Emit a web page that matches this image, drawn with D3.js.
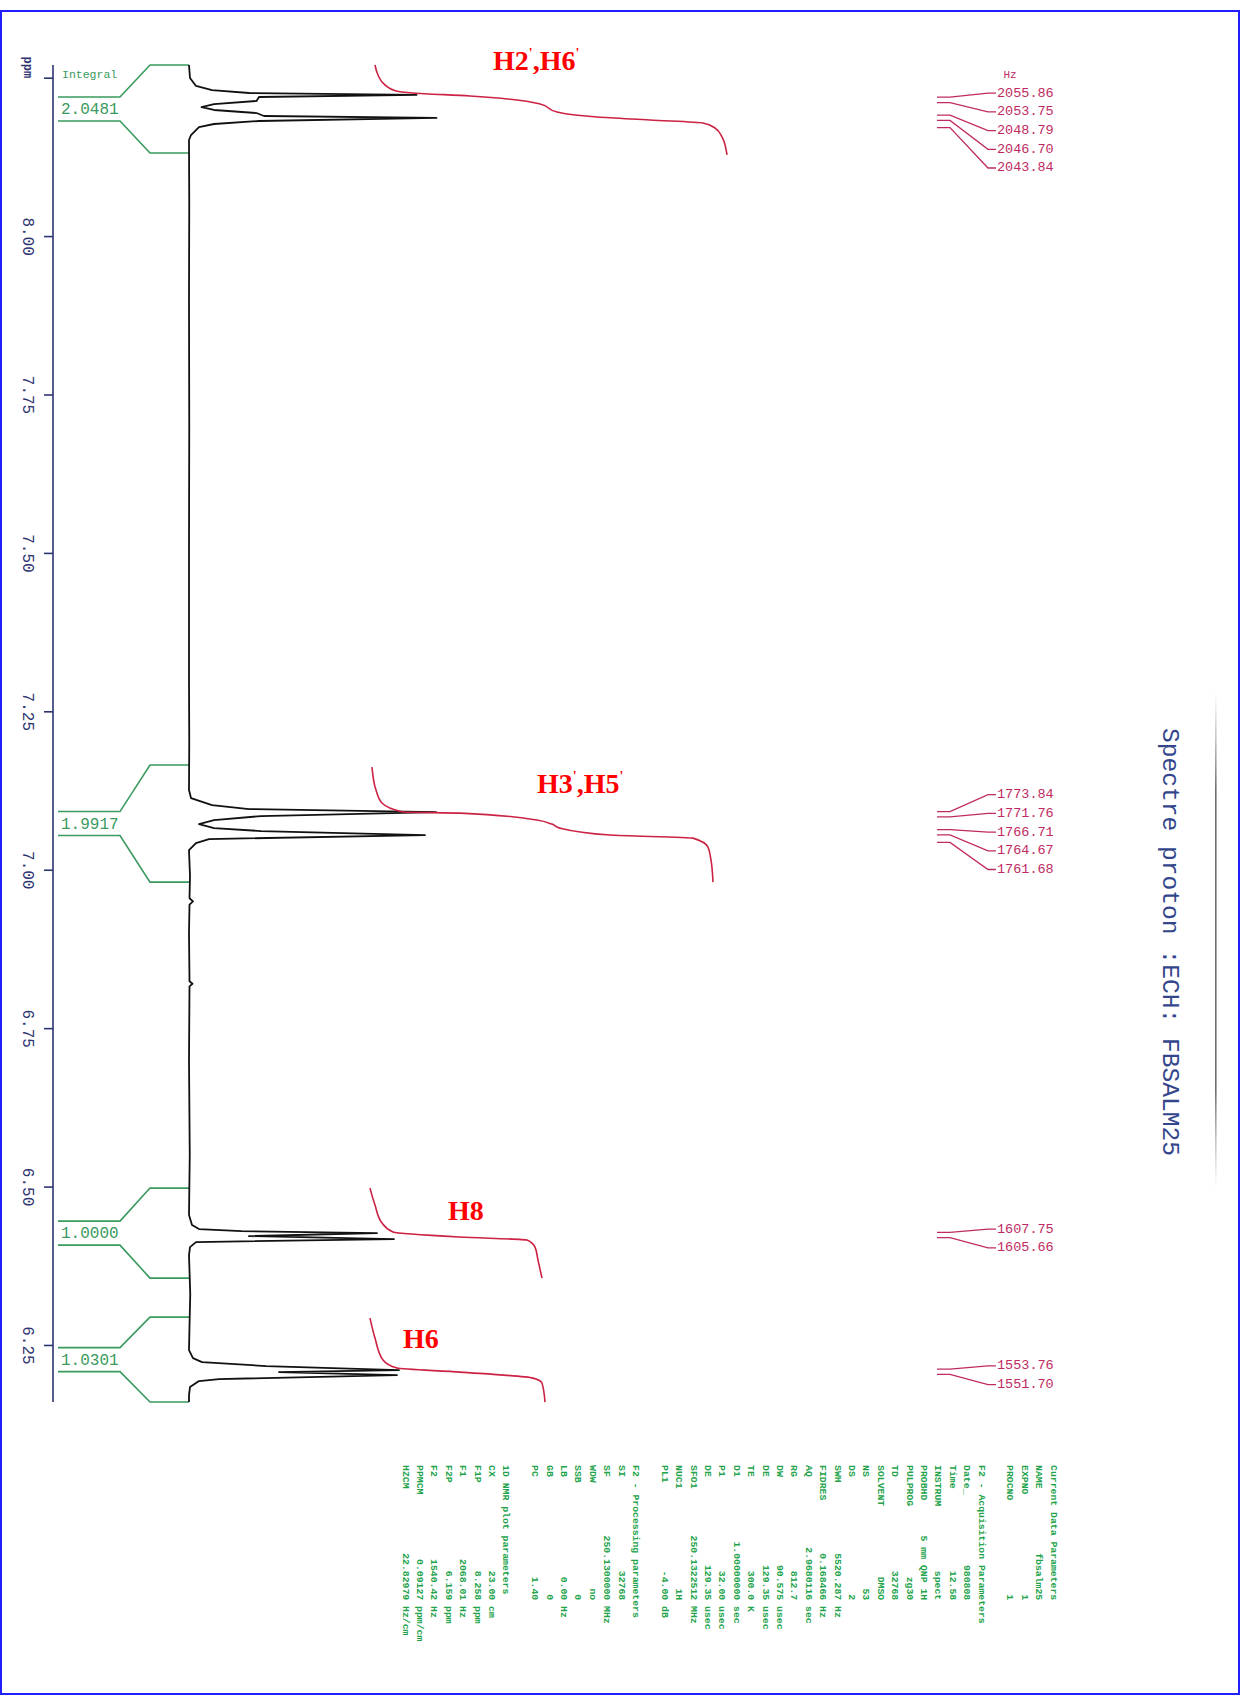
<!DOCTYPE html>
<html>
<head>
<meta charset="utf-8">
<script src="https://cdn.jsdelivr.net/npm/d3@7"></script>
<style>
body { margin: 0; background: #fff; }
svg { display: block; }
.mono { font-family: "Liberation Mono", "DejaVu Sans Mono", monospace; }
.tag { font-family: "Liberation Serif", "Times New Roman", serif; font-weight: bold; fill: #ff0000; }
</style>
</head>
<body>
<svg id="chart" width="1241" height="1702"></svg>
<script>
// 1H spectrum trace: [ppm, intensity]
const spectrum = [
  [8.270, 0], [8.2495, 0.4], [8.2369, 2.8], [8.2305, 9.2], [8.2258, 24], [8.2227, 91],
  [8.2195, 28], [8.2132, 27], [8.2084, 10], [8.2037, 5], [8.1990, 10], [8.1942, 27],
  [8.1895, 30], [8.1864, 99], [8.1816, 28], [8.1769, 10], [8.1721, 4], [8.1595, 0.8],
  [8.1516, 0], [8.05, 0.1], [7.90, 0], [7.70, 0.1], [7.50, 0], [7.30, 0], [7.20, 0.1],
  [7.1257, 0], [7.1131, 0.8], [7.1020, 9.2], [7.0957, 24], [7.0910, 98.8], [7.0847, 28.8],
  [7.0783, 10], [7.0720, 4], [7.0657, 10], [7.0610, 28.8], [7.0547, 94.4], [7.0484, 8],
  [7.0421, 2.8], [7.0310, 0], [6.99, 0.4], [6.955, 0.2], [6.950, 1.6], [6.945, 0.2],
  [6.90, 0], [6.824, 0.2], [6.820, 1.4], [6.816, 0.2], [6.70, 0], [6.55, 0.3], [6.4550, 0],
  [6.4392, 1.2], [6.4329, 4], [6.4297, 21], [6.4266, 75.2], [6.4218, 24], [6.4171, 82],
  [6.4124, 2.8], [6.4045, 0.4], [6.3919, 0], [6.33, 0.5], [6.28, 0.2], [6.2419, 0],
  [6.2293, 1.6], [6.2230, 5.2], [6.2167, 30.8], [6.2104, 84], [6.2072, 36], [6.2025, 83.2],
  [6.1962, 12], [6.1930, 4], [6.1835, 0.4], [6.1709, 0], [6.1599, 0]
];

// integral curves (red): [ppm, integral]
const integralCurves = [
  [[8.2700, 8.75], [8.2542, 9.5], [8.2384, 11.25], [8.2290, 14], [8.2258, 18.25], [8.2211, 32.5],
   [8.2148, 44.25], [8.2084, 50], [8.1958, 54.25], [8.1911, 58.75], [8.1879, 64.25],
   [8.1832, 77.5], [8.1785, 90.75], [8.1706, 93.75], [8.1564, 95.5], [8.1280, 96.75]],
  [[7.1620, 8], [7.1257, 9], [7.1052, 10.5], [7.0910, 15.75], [7.0894, 30], [7.0784, 49.25],
   [7.0720, 53], [7.0657, 55], [7.0547, 67.5], [7.0499, 88.25], [7.0357, 92], [7.0152, 92.75],
   [6.9805, 93.25]],
  [[6.4976, 7.5], [6.4708, 8.75], [6.4424, 10.5], [6.4282, 13.25], [6.4203, 30], [6.4155, 46.75],
   [6.4045, 48.75], [6.3839, 49.5], [6.3555, 50.5]],
  [[6.2924, 7.5], [6.2609, 8.75], [6.2262, 10.75], [6.2135, 14.25], [6.2072, 30], [6.1977, 48.25],
   [6.1898, 50.5], [6.1599, 51.25]]
];

const integralFrom = [8.270, 7.1652, 6.4976, 6.2940];
const integralTo = [8.1311, 6.9805, 6.3555, 6.1599];
const integralValues = ["2.0481", "1.9917", "1.0000", "1.0301"];

const sf = 250.13; // MHz
const peakHz = [
  [2055.86, 2053.75, 2048.79, 2046.70, 2043.84],
  [1773.84, 1771.76, 1766.71, 1764.67, 1761.68],
  [1607.75, 1605.66],
  [1553.76, 1551.70]
];

const assignments = [["H2", "'", ",H6", "'"], ["H3", "'", ",H5", "'"], ["H8"], ["H6"]];

const ppmTicks = [8.25, 8.00, 7.75, 7.50, 7.25, 7.00, 6.75, 6.50, 6.25];
const tickLabels = ["ppm", "8.00", "7.75", "7.50", "7.25", "7.00", "6.75", "6.50", "6.25"];

const title = "Spectre proton :ECH: FBSALM25";

const params = [
  ["Current Data Parameters"],
  ["NAME", "fbsalm25", ""], ["EXPNO", "1", ""], ["PROCNO", "1", ""],
  [""],
  ["F2 - Acquisition Parameters"],
  ["Date_", "980808", ""], ["Time", "12.58", ""], ["INSTRUM", "spect", ""],
  ["PROBHD", "5 mm QNP 1H", ""], ["PULPROG", "zg30", ""], ["TD", "32768", ""],
  ["SOLVENT", "DMSO", ""], ["NS", "53", ""], ["DS", "2", ""],
  ["SWH", "5520.287", "Hz"], ["FIDRES", "0.168466", "Hz"], ["AQ", "2.9680116", "sec"],
  ["RG", "812.7", ""], ["DW", "90.575", "usec"], ["DE", "129.35", "usec"],
  ["TE", "300.0", "K"], ["D1", "1.00000000", "sec"], ["P1", "32.00", "usec"],
  ["DE", "129.35", "usec"], ["SFO1", "250.1322512", "MHz"], ["NUC1", "1H", ""],
  ["PL1", "-4.00", "dB"],
  [""],
  ["F2 - Processing parameters"],
  ["SI", "32768", ""], ["SF", "250.1300000", "MHz"], ["WDW", "no", ""],
  ["SSB", "0", ""], ["LB", "0.00", "Hz"], ["GB", "0", ""], ["PC", "1.40", ""],
  [""],
  ["1D NMR plot parameters"],
  ["CX", "23.00", "cm"], ["F1P", "8.258", "ppm"], ["F1", "2068.01", "Hz"],
  ["F2P", "6.159", "ppm"], ["F2", "1540.42", "Hz"], ["PPMCM", "0.09127", "ppm/cm"],
  ["HZCM", "22.82979", "Hz/cm"]
];

// layout
const tagPos = [[493, 70], [537, 793], [448, 1220], [403, 1348]];
const hzShift = [18, 5, 3.5, 3.5];

const svg = d3.select("#chart");

// ppm runs top to bottom, intensity to the right (spectrum printed sideways)
const y = d3.scaleLinear().domain([8.27, 6.16]).range([65, 1402]);
const x = d3.scaleLinear().domain([0, 100]).range([189, 439]);
const xi = d3.scaleLinear().domain([0, 100]).range([340, 740]);

// page border
svg.append("rect")
  .attr("x", 1).attr("y", 11).attr("width", 1238).attr("height", 1683)
  .attr("fill", "none").attr("stroke", "#1f1fff").attr("stroke-width", 2);

// scanner shadow at the right edge
const grad = svg.append("defs").append("linearGradient")
  .attr("id", "shade").attr("x1", 0).attr("x2", 0).attr("y1", 0).attr("y2", 1);
grad.append("stop").attr("offset", "0%").attr("stop-color", "#888").attr("stop-opacity", 0);
grad.append("stop").attr("offset", "20%").attr("stop-color", "#555").attr("stop-opacity", 0.85);
grad.append("stop").attr("offset", "80%").attr("stop-color", "#555").attr("stop-opacity", 0.85);
grad.append("stop").attr("offset", "100%").attr("stop-color", "#888").attr("stop-opacity", 0);
svg.append("rect")
  .attr("x", 1215).attr("y", 690).attr("width", 1.6).attr("height", 500)
  .attr("fill", "url(#shade)");

// ppm axis
const axis = svg.append("g")
  .attr("transform", "translate(53,0)")
  .call(d3.axisLeft(y).tickValues(ppmTicks).tickSize(9).tickSizeOuter(0)
    .tickFormat((d, i) => tickLabels[i]));
axis.select(".domain").attr("stroke", "#2d3570").attr("stroke-width", 1.6)
  .attr("d", "M0," + y(8.27) + "V" + y(6.16));
axis.selectAll(".tick line").attr("stroke", "#2d3570").attr("stroke-width", 1.6);
axis.selectAll(".tick text")
  .attr("class", "mono")
  .attr("x", null).attr("dy", null)
  .attr("transform", "translate(-26,0) rotate(90)")
  .attr("text-anchor", (d, i) => i === 0 ? "end" : "middle")
  .attr("dominant-baseline", "central")
  .attr("fill", "#2d3570")
  .style("font-size", (d, i) => i === 0 ? "12px" : "16px")
  .style("font-weight", (d, i) => i === 0 ? "bold" : "normal");

// integral brackets
const green = "#3a9a5e";
svg.append("text").attr("class", "mono")
  .attr("x", 62).attr("y", 78).attr("fill", green)
  .style("font-size", "11.5px").text("Integral");

integralFrom.forEach(function (f, i) {
  const y0 = y(f), y1 = y(integralTo[i]), yc = (y0 + y1) / 2;
  const g = svg.append("g");
  g.append("path")
    .attr("d", `M${x(0)},${y0}H150L120,${yc - 12}H58`)
    .attr("fill", "none").attr("stroke", green).attr("stroke-width", 1.6);
  g.append("path")
    .attr("d", `M58,${yc + 12}H120L150,${y1}H${x(0)}`)
    .attr("fill", "none").attr("stroke", green).attr("stroke-width", 1.6);
  g.append("text").attr("class", "mono")
    .attr("x", 61).attr("y", yc + 1)
    .attr("dominant-baseline", "central")
    .attr("fill", green)
    .style("font-size", "16px")
    .text(integralValues[i]);
});

// spectrum
const line = d3.line()
  .x(function (d) { return x(d[1]); })
  .y(function (d) { return y(d[0]); });

svg.append("path")
  .datum(spectrum)
  .attr("d", line)
  .attr("fill", "none")
  .attr("stroke", "#111")
  .attr("stroke-width", 1.8)
  .attr("stroke-linejoin", "round");

// integral curves
const iline = d3.line()
  .x(function (d) { return xi(d[1]); })
  .y(function (d) { return y(d[0]); })
  .curve(d3.curveMonotoneY);

svg.selectAll(".integral")
  .data(integralCurves)
  .enter().append("path")
  .attr("class", "integral")
  .attr("d", iline)
  .attr("fill", "none")
  .attr("stroke", "#cc2244")
  .attr("stroke-width", 1.6);

// peak labels in Hz
const pink = "#c02a62";
svg.append("text").attr("class", "mono")
  .attr("x", 1010).attr("y", 75)
  .attr("text-anchor", "middle").attr("dominant-baseline", "central")
  .attr("fill", pink).style("font-size", "11px").text("Hz");

peakHz.forEach(function (grp, gi) {
  const ys = grp.map(function (h) { return y(h / sf); });
  const mid = d3.mean(ys) + hzShift[gi];
  const step = 18.7;
  grp.forEach(function (h, k) {
    const yl = mid + (k - (grp.length - 1) / 2) * step;
    svg.append("path")
      .attr("d", `M937,${ys[k]}H950L988,${yl}H996`)
      .attr("fill", "none").attr("stroke", pink).attr("stroke-width", 1.3);
    svg.append("text").attr("class", "mono")
      .attr("x", 997).attr("y", yl)
      .attr("dominant-baseline", "central")
      .attr("fill", pink)
      .style("font-size", "13.5px")
      .text(h.toFixed(2));
  });
});

// assignment tags (primes raised, then back to the baseline)
assignments.forEach(function (parts, i) {
  const t = svg.append("text").attr("class", "tag")
    .attr("x", tagPos[i][0]).attr("y", tagPos[i][1])
    .style("font-size", "28px");
  let raised = false;
  parts.forEach(function (p) {
    const ts = t.append("tspan").text(p);
    if (p === "'") {
      ts.attr("dy", -12).style("font-size", "14px");
      raised = true;
    } else if (raised) {
      ts.attr("dy", 12);
      raised = false;
    }
  });
});

// title, printed sideways
svg.append("text").attr("class", "mono")
  .attr("transform", "translate(1169,942) rotate(90)")
  .attr("text-anchor", "middle").attr("dominant-baseline", "central")
  .attr("fill", "#33468c")
  .style("font-size", "24.6px")
  .text(title);

// parameter block, printed sideways
const ptext = svg.append("g");
params.forEach(function (row, i) {
  let s;
  if (row.length === 1) s = row[0];
  else s = row[0].padEnd(8) + row[1].padStart(15) + (row[2] ? " " + row[2] : "");
  ptext.append("text").attr("class", "mono")
    .attr("transform", `translate(${1053 - i * 14.4},1465) rotate(90)`)
    .attr("dominant-baseline", "central")
    .attr("fill", "#22a34a")
    .style("font-size", "9.8px")
    .style("font-weight", "bold")
    .style("white-space", "pre")
    .text(s);
});
</script>
</body>
</html>
